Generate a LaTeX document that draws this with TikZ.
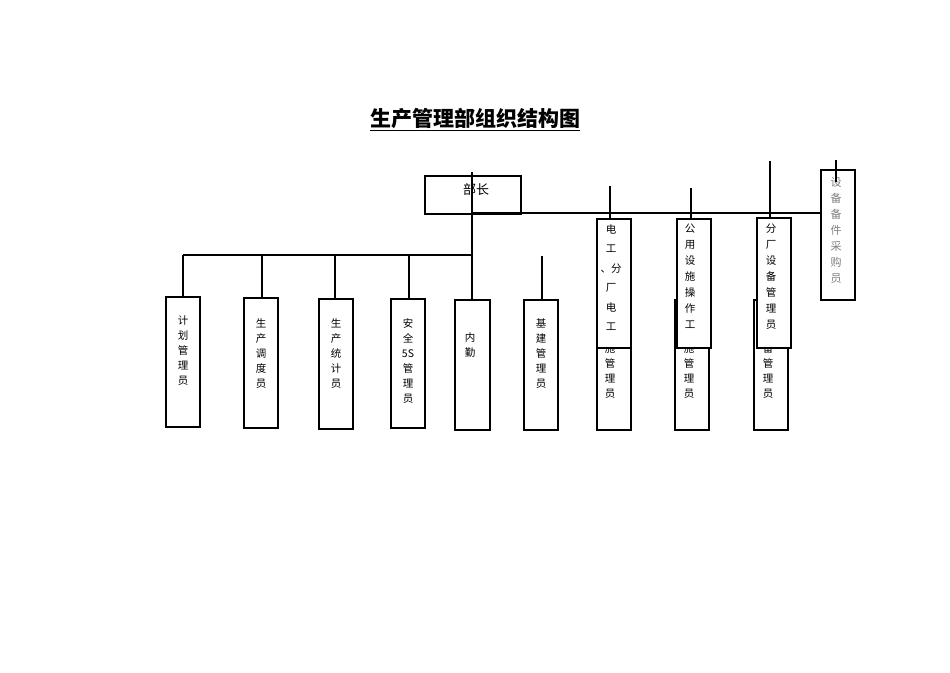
\documentclass[tikz,border=0pt]{standalone}
\usepackage{fontspec}
\newfontfamily\cjk{Noto Sans CJK SC}
\begin{document}
\begin{tikzpicture}[x=1pt,y=-1pt,
  box/.style={draw,line width=1.8pt,fill=white},
  ln/.style={line width=1.5pt},
  vt/.style={anchor=north,align=center,inner sep=0pt,font=\cjk\fontsize{10.5}{15}\selectfont},
  vtw/.style={anchor=north,align=center,inner sep=0pt,font=\cjk\fontsize{10.5}{19.5}\selectfont}]
\useasboundingbox (0,0) rectangle (950,672);
\node[font=\cjk\fontsize{21}{24}\selectfont\bfseries] (title) at (475,120) {\underline{生产管理部组织结构图}};
% head
\draw[box] (425,176) rectangle (521,214);
\node[font=\cjk\fontsize{13}{15}\selectfont] (head) at (476,190) {部长};
% lines
\draw[ln] (472,172) -- (472,300);
\draw[ln] (472,213) -- (821,213);
\draw[ln] (183,255) -- (472,255);
\foreach \x/\b in {183/297,262/298,335/299,409/299} \draw[ln] (\x,255) -- (\x,\b);
\draw[ln] (542,256) -- (542,300);
\draw[ln] (610,186) -- (610,219);
\draw[ln] (691,188) -- (691,219);
\draw[ln] (770,161) -- (770,218);
% bottom row
\draw[box] (166,297) rectangle (200,427);
\node[vt] (a) at (183,316) {计\\划\\管\\理\\员};
\draw[box] (244,298) rectangle (278,428);
\node[vt] (b) at (261,318) {生\\产\\调\\度\\员};
\draw[box] (319,299) rectangle (353,429);
\node[vt] (c) at (336,318) {生\\产\\统\\计\\员};
\draw[box] (391,299) rectangle (425,428);
\node[vt] (d) at (408,318) {安\\全\\5S\\管\\理\\员};
\draw[box] (455,300) rectangle (490,430);
\node[vt] (e) at (470,332) {内\\勤};
\draw[box] (524,300) rectangle (558,430);
\node[vt] (f) at (541,318) {基\\建\\管\\理\\员};
\draw[box] (597,300) rectangle (631,430);
\node[vt] (g) at (610,343) {施\\管\\理\\员};
\draw[box] (675,300) rectangle (709,430);
\node[vt] (h) at (689,343) {施\\管\\理\\员};
\draw[box] (754,300) rectangle (788,430);
\node[vt] (i) at (768,343) {备\\管\\理\\员};
% overlapping upper boxes
\draw[box] (597,219) rectangle (631,348);
\node[vtw] (j) at (611,224) {电\\工\\、分\\厂\\电\\工};
\draw[box] (677,219) rectangle (711,348);
\node[vt,font=\cjk\fontsize{10.5}{16}\selectfont] (k) at (690,224) {公\\用\\设\\施\\操\\作\\工};
\draw[box] (757,218) rectangle (791,348);
\node[vt,font=\cjk\fontsize{10.5}{16}\selectfont] (l) at (771,224) {分\\厂\\设\\备\\管\\理\\员};
% purchaser
\draw[box] (821,170) rectangle (855,300);
\node[vt,text=gray,font=\cjk\fontsize{11}{16}\selectfont] (m) at (836,177) {设\\备\\备\\件\\采\\购\\员};
\draw[ln] (836,160) -- (836,182);
\end{tikzpicture}
\end{document}
